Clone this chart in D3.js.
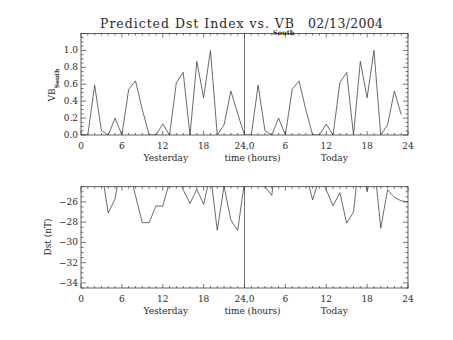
<!DOCTYPE html>
<html><head><meta charset="utf-8">
<script src="https://cdn.jsdelivr.net/npm/d3@7"></script>
<style>
html,body{margin:0;padding:0;background:#fff;}
svg text{font-family:"DejaVu Serif",serif;fill:#2a2a2a;}
</style></head>
<body><svg id="c" width="453" height="340"></svg>
<script>
// ---- data ----
const titleMain = "Predicted Dst Index vs. VB";
const titleSub = "South";
const titleDate = "02/13/2004";
const xTickValues = [0, 6, 12, 18, 24, 30, 36, 42, 48];
const xTickLabels = ["0", "6", "12", "18", "24,0", "6", "12", "18", "24"];
const dayLabels = ["Yesterday", "time (hours)", "Today"];
// VB South, hourly (yesterday 0..23, today 0..23)
const vbYesterday = [0, 0, 0.59, 0.05, 0, 0.2, 0, 0.54, 0.64, 0.3, 0, 0, 0.13, 0, 0.62, 0.74, 0, 0.87, 0.44, 1.0, 0, 0.12, 0.52, 0.25];
const vbToday     = [0, 0, 0.59, 0.05, 0, 0.2, 0, 0.54, 0.64, 0.3, 0, 0, 0.13, 0, 0.62, 0.74, 0, 0.87, 0.44, 1.0, 0, 0.12, 0.52, 0.24];
const vbTicks = [0, 0.2, 0.4, 0.6, 0.8, 1.0];
// Predicted Dst (nT), hourly 0..48
const dstValues = [-23, -23, -23, -22.8, -27.1, -25.7, -21.9, -22.7, -25.4, -28.05, -28.05, -26.4, -26.43, -24.0, -23.0, -24.8,
  -26.15, -24.75, -26.25, -23.2, -28.8, -24.45, -27.8, -28.8, -24.0, -23, -23, -24.5, -25.35, -20, -22, -22, -22,
  -23.2, -25.8, -23.6, -24.8, -26.37, -25.1, -28.1, -27.0, -20.8, -25.0, -21.9, -28.6, -24.8, -25.55, -25.9, -26.0];
const dstTicks = [-34, -32, -30, -28, -26];

// ---- layout ----
const svg = d3.select("#c");
const ink = "#3a3a3a";
const X0 = 81, X1 = 408;
const x = d3.scaleLinear().domain([0, 48]).range([X0, X1]);

function panel(yTop, yBot, domain, majors, minorStep, fmt, data, id) {
  const y = d3.scaleLinear().domain(domain).range([yBot, yTop]);
  const g = svg.append("g");
  g.append("clipPath").attr("id", id).append("rect")
    .attr("x", X0).attr("y", yTop).attr("width", X1 - X0).attr("height", yBot - yTop);
  g.append("rect").attr("x", X0).attr("y", yTop).attr("width", X1 - X0).attr("height", yBot - yTop)
    .attr("fill", "none").attr("stroke", ink).attr("stroke-width", 0.8);
  d3.range(0, 49, 1).forEach(h => {
    const len = (h % 6 === 0) ? 4 : 2;
    const px = x(h);
    g.append("line").attr("x1", px).attr("x2", px).attr("y1", yBot).attr("y2", yBot - len).attr("stroke", ink).attr("stroke-width", 0.7);
    g.append("line").attr("x1", px).attr("x2", px).attr("y1", yTop).attr("y2", yTop + len).attr("stroke", ink).attr("stroke-width", 0.7);
  });
  const start = Math.ceil(domain[0] / minorStep - 1e-6) * minorStep;
  for (let v = start; v <= domain[1] + 1e-9; v += minorStep) {
    const isMajor = Math.abs(Math.round(v / (minorStep * 4)) * minorStep * 4 - v) < 1e-6;
    const len = isMajor ? 5 : 2.5;
    const py = y(v);
    g.append("line").attr("x1", X0).attr("x2", X0 + len).attr("y1", py).attr("y2", py).attr("stroke", ink).attr("stroke-width", 0.7);
    g.append("line").attr("x1", X1).attr("x2", X1 - len).attr("y1", py).attr("y2", py).attr("stroke", ink).attr("stroke-width", 0.7);
  }
  majors.forEach(v => {
    g.append("text").attr("x", X0 - 3).attr("y", y(v) + 3).attr("text-anchor", "end")
      .attr("font-size", 9).text(fmt(v));
  });
  xTickValues.forEach((v, i) => {
    g.append("text").attr("x", x(v)).attr("y", yBot + 14).attr("text-anchor", "middle")
      .attr("font-size", 9).text(xTickLabels[i]);
  });
  g.append("text").attr("x", x(12) + 3).attr("y", yBot + 26).attr("text-anchor", "middle").attr("font-size", 9).text(dayLabels[0]);
  g.append("text").attr("x", x(24) + 8).attr("y", yBot + 26).attr("text-anchor", "middle").attr("font-size", 9).text(dayLabels[1]);
  g.append("text").attr("x", x(36) + 8).attr("y", yBot + 26).attr("text-anchor", "middle").attr("font-size", 9).text(dayLabels[2]);
  g.append("line").attr("x1", x(24)).attr("x2", x(24)).attr("y1", yTop).attr("y2", yBot).attr("stroke", ink).attr("stroke-width", 0.7);
  const line = d3.line().x((d, i) => x(i)).y(d => y(d));
  g.append("path").datum(data).attr("d", line).attr("fill", "none").attr("stroke", ink)
    .attr("stroke-width", 0.75).attr("clip-path", `url(#${id})`);
  return y;
}

panel(33.5, 135, [0, 1.2], vbTicks, 0.05, d3.format(".1f"), vbYesterday.concat(vbToday), "c1");
panel(186.7, 288, [-34.5, -24.5], dstTicks, 0.5, d => "\u2212" + Math.abs(d), dstValues, "c2");

// title
svg.append("text").attr("x", 100).attr("y", 27.5).attr("font-size", 12.5)
  .attr("textLength", 194).attr("lengthAdjust", "spacing").text(titleMain);
svg.append("text").attr("x", 273).attr("y", 35).attr("font-size", 6.5).attr("font-weight", "bold").text(titleSub);
svg.append("text").attr("x", 308).attr("y", 27.5).attr("font-size", 12.5)
  .attr("textLength", 75).attr("lengthAdjust", "spacing").text(titleDate);

// y titles
const t1 = svg.append("text").attr("transform", "translate(55,85) rotate(-90)").attr("text-anchor", "middle").attr("font-size", 9);
t1.append("tspan").text("VB");
t1.append("tspan").attr("dy", 3.5).attr("font-size", 6).attr("font-weight", "bold").text("South");
svg.append("text").attr("transform", "translate(51,237) rotate(-90)").attr("text-anchor", "middle").attr("font-size", 9).text("Dst (nT)");
</script></body></html>
